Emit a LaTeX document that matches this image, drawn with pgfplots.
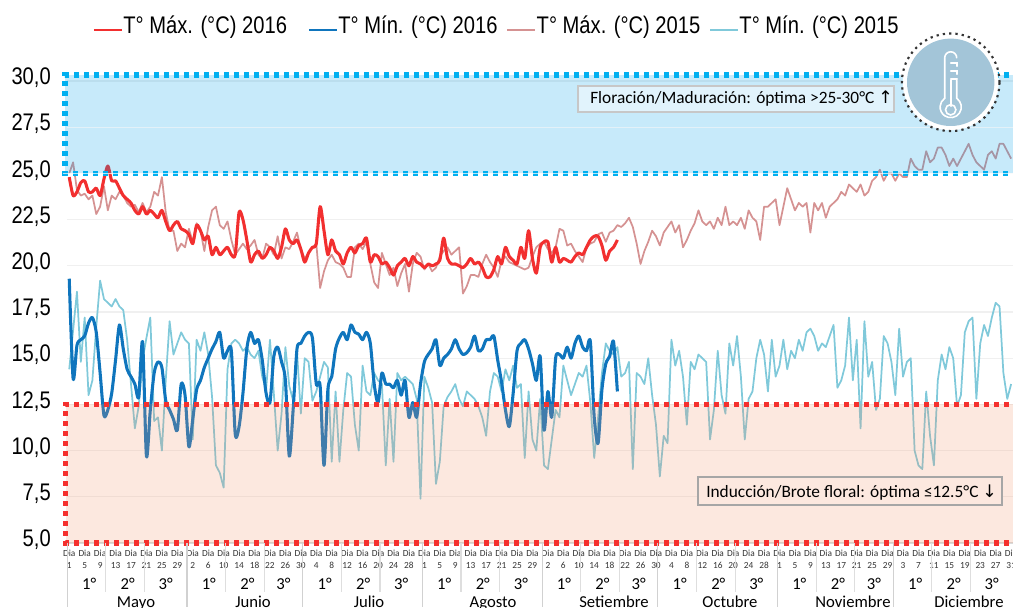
\documentclass[border=0pt]{standalone}
\usepackage{fontspec}
\usepackage{pgfplots}
\pgfplotsset{compat=1.18}
\setmainfont{Carlito}
\newfontfamily\narrowf[FakeStretch=0.84]{Liberation Sans}
\newfontfamily\symf{DejaVu Sans}
\definecolor{cmax16}{HTML}{F22F2F}
\definecolor{cmin16}{HTML}{0F75BD}
\definecolor{cmax15}{HTML}{D59292}
\definecolor{cmin15}{HTML}{80C9DA}
\definecolor{zblue}{HTML}{00A0E8}
\definecolor{zred}{HTML}{F0956B}
\definecolor{dblue}{HTML}{00B0F0}
\definecolor{dred}{HTML}{F5302E}
\definecolor{boxblue}{HTML}{E1F3FC}
\definecolor{boxred}{HTML}{FCE8DF}
\definecolor{badge}{HTML}{A3C5D8}
\pgfplotsset{legsample/.style={legend image code/.code={\draw[#1] (0pt,-3pt) -- (21pt,-3pt);\path (21.75pt,0pt);}}}
\begin{document}
\begin{tikzpicture}
\path[use as bounding box] (0,0) rectangle (759.75pt,455.25pt);
\clip (0,0) rectangle (759.75pt,455.25pt);
\begin{axis}[
  at={(50.48pt,48pt)}, anchor=south west,
  scale only axis, width=709.3pt, height=346.5pt,
  xmin=0.5, xmax=245.5, ymin=5, ymax=30,
  clip=false,
  axis x line*=bottom, axis y line*=left,
  y axis line style={draw=none},
  x axis line style={draw=black!15,line width=0.8pt},
  tick style={draw=none},
  ymajorgrids, grid style={draw=black!6,line width=0.8pt},
  ytick={5,7.5,...,30},
  yticklabel style={font=\narrowf\fontsize{18}{18}\selectfont,inner sep=0pt,anchor=east,xshift=-12.2pt,yshift=2.4pt,
    /pgf/number format/.cd,use comma,fixed,fixed zerofill,precision=1,assume math mode=true},
  xtick={1,5,9,13,17,21,25,29,33,37,41,45,49,53,57,61,65,69,73,77,81,85,89,93,97,101,105,109,113,117,121,125,129,133,137,141,145,149,153,157,161,165,169,173,177,181,185,189,193,197,201,205,209,213,217,221,225,229,233,237,241,245},
  xticklabels={{Dia\\1},{Dia\\5},{Dia\\9},{Dia\\13},{Dia\\17},{Dia\\21},{Dia\\25},{Dia\\29},
    {Dia\\2},{Dia\\6},{Dia\\10},{Dia\\14},{Dia\\18},{Dia\\22},{Dia\\26},{Dia\\30},
    {Dia\\4},{Dia\\8},{Dia\\12},{Dia\\16},{Dia\\20},{Dia\\24},{Dia\\28},
    {Dia\\1},{Dia\\5},{Dia\\9},{Dia\\13},{Dia\\17},{Dia\\21},{Dia\\25},{Dia\\29},
    {Dia\\2},{Dia\\6},{Dia\\10},{Dia\\14},{Dia\\18},{Dia\\22},{Dia\\26},{Dia\\30},
    {Dia\\4},{Dia\\8},{Dia\\12},{Dia\\16},{Dia\\20},{Dia\\24},{Dia\\28},
    {Dia\\1},{Dia\\5},{Dia\\9},{Dia\\13},{Dia\\17},{Dia\\21},{Dia\\25},{Dia\\29},
    {Dia\\3},{Dia\\7},{Dia\\11},{Dia\\15},{Dia\\19},{Dia\\23},{Dia\\27},{Dia\\31}},
  xticklabel style={align=center,font=\fontsize{7}{9}\selectfont,inner sep=0pt,anchor=north,yshift=-5.2pt,text=black!80},
  legend columns=4,
  legend style={at={(0.4528,1.119)},draw=none,fill=none,inner sep=0pt,outer sep=0pt,anchor=center,
    nodes={inner xsep=0pt},
    /tikz/column 2/.style={column sep=15.75pt},
    /tikz/column 4/.style={column sep=6.75pt},
    /tikz/column 6/.style={column sep=6.75pt},
    font=\narrowf\fontsize{18}{18}\selectfont},
]
\addlegendimage{legsample={line width=2.2pt,color=cmax16}}\addlegendentry{T° Máx. (°C) 2016}
\addlegendimage{legsample={line width=1.7pt,color=cmin16}}\addlegendentry{T° Mín. (°C) 2016}
\addlegendimage{legsample={line width=1.3pt,color=cmax15}}\addlegendentry{T° Máx. (°C) 2015}
\addlegendimage{legsample={line width=1.3pt,color=cmin15}}\addlegendentry{T° Mín. (°C) 2015}

% Tmax 2015
\addplot[forget plot,color=cmax15,line width=1.3pt,line join=round] coordinates {
(1,25.0)(2,25.6)(3,24.1)(4,23.8)(5,23.9)(6,23.6)(7,23.8)(8,22.8)(9,23.2)(10,24.3)(11,23.0)(12,23.8)(13,23.6)(14,24.0)(15,23.8)(16,23.4)(17,23.2)(18,23.3)(19,22.9)(20,23.4)(21,22.9)(22,23.2)(23,24.0)(24,23.8)(25,24.8)(26,22.9)(27,21.9)(28,21.9)(29,20.8)(30,21.2)(31,21.0)(32,22.0)(33,21.3)(34,22.3)(35,21.9)(36,20.8)(37,22.1)(38,23.0)(39,23.2)(40,22.2)(41,22.0)(42,22.4)(43,21.4)(44,20.6)(45,20.9)(46,21.2)(47,20.9)(48,21.1)(49,21.4)(50,20.6)(51,20.4)(52,21.2)(53,21.0)(54,20.6)(55,21.6)(56,20.4)(57,21.0)(58,20.9)(59,21.3)(60,21.8)(61,20.9)(62,20.4)(63,20.7)(64,21.0)(65,21.2)(66,18.8)(67,19.7)(68,20.3)(69,20.6)(70,20.2)(71,20.1)
(72,19.9)(73,19.4)(74,19.4)(75,21.0)(76,21.2)(77,20.9)(78,21.3)(79,20.1)(80,19.1)(81,18.8)(82,20.7)(83,20.1)(84,19.5)(85,19.9)(86,18.9)(87,19.6)(88,20.1)(89,18.6)(90,20.1)(91,20.7)(92,20.5)(93,19.8)(94,20.1)(95,19.7)(96,19.9)(97,20.5)(98,20.8)(99,21.0)(100,20.6)(101,20.8)(102,21.0)(103,18.5)(104,18.9)(105,19.5)(106,19.5)(107,19.4)(108,20.1)(109,20.6)(110,20.2)(111,19.9)(112,19.4)(113,20.3)(114,20.5)(115,20.2)(116,20.1)(117,20.0)(118,19.9)(119,19.8)(120,19.9)(121,20.5)(122,21.0)(123,21.2)(124,21.3)(125,20.9)(126,20.7)(127,21.0)(128,22.0)(129,21.9)(130,21.1)(131,21.2)(132,20.8)(133,20.5)(134,20.2)(135,21.0)(136,21.2)(137,21.3)(138,21.7)(139,21.8)(140,21.3)(141,21.8)(142,21.9)(143,22.2)(144,22.1)(145,22.3)(146,22.6)(147,22.1)(148,21.2)(149,20.1)(150,20.8)(151,21.3)(152,21.9)(153,21.6)(154,21.1)(155,21.8)(156,22.1)
(157,22.4)(158,21.8)(159,22.2)(160,21.0)(161,21.4)(162,21.9)(163,22.3)(164,23.0)(165,22.4)(166,22.2)(167,22.4)(168,22.0)(169,22.6)(170,22.2)(171,23.2)(172,22.2)(173,22.4)(174,22.2)(175,22.6)(176,22.0)(177,23.0)(178,22.6)(179,22.4)(180,21.4)(181,23.2)(182,23.2)(183,23.4)(184,23.6)(185,22.2)(186,23.2)(187,24.2)(188,23.6)(189,23.0)(190,23.4)(191,23.2)(192,23.4)(193,21.8)(194,23.4)(195,23.0)(196,23.4)(197,22.6)(198,23.2)(199,23.4)(200,23.6)(201,24.0)(202,23.8)(203,24.4)(204,24.2)(205,24.0)(206,24.4)(207,23.8)(208,24.0)(209,24.6)(210,24.8)(211,25.2)(212,24.6)(213,25.0)(214,25.0)(215,24.6)(216,25.0)(217,24.8)(218,24.8)(219,25.8)(220,25.4)(221,25.2)(222,25.2)(223,26.2)(224,25.6)(225,25.8)(226,26.4)(227,26.4)(228,26.0)(229,25.4)(230,25.8)(231,25.4)(232,25.8)(233,26.2)(234,26.6)(235,26.0)(236,25.6)(237,25.4)(238,25.2)(239,26.0)(240,26.2)(241,25.8)(242,26.6)(243,26.6)(244,26.2)(245,25.8)
};
% Tmin 2015
\addplot[forget plot,color=cmin15,line width=1.3pt,line join=round] coordinates {
(1,14.4)(2,16.5)(3,18.6)(4,14.8)(5,17.2)(6,13.0)(7,13.8)(8,16.7)(9,19.2)(10,18.2)(11,18.0)(12,17.8)(13,18.2)(14,17.8)(15,17.6)(16,16.0)(17,13.6)(18,11.2)(19,12.4)(20,14.9)(21,16.1)(22,17.2)(23,11.6)(24,11.8)(25,10.0)(26,13.8)(27,17.0)(28,15.2)(29,15.8)(30,16.4)(31,16.0)(32,15.8)(33,10.6)(34,16.0)(35,15.4)(36,16.4)(37,15.2)(38,12.9)(39,9.2)(40,8.8)(41,8.0)(42,14.4)(43,15.8)(44,16.0)(45,15.8)(46,15.4)(47,15.6)(48,15.2)(49,15.0)(50,15.4)(51,14.0)(52,13.3)(53,16.0)(54,13.1)(55,10.0)(56,12.0)(57,15.6)(58,13.5)(59,12.7)(60,15.4)(61,12.0)(62,15.0)(63,14.8)(64,12.7)(65,13.2)(66,14.0)(67,14.8)(68,14.5)(69,9.4)(70,13.2)(71,9.4)
(72,12.2)(73,14.2)(74,14.0)(75,11.4)(76,10.0)(77,14.6)(78,13.2)(79,13.0)(80,14.2)(81,13.8)(82,13.6)(83,9.2)(84,12.8)(85,9.4)(86,14.2)(87,13.8)(88,14.0)(89,13.8)(90,13.6)(91,12.8)(92,7.4)(93,14.0)(94,13.4)(95,12.6)(96,8.2)(97,9.4)(98,12.4)(99,12.9)(100,13.2)(101,13.6)(102,12.8)(103,12.4)(104,13.2)(105,13.0)(106,12.8)(107,12.4)(108,11.8)(109,10.8)(110,13.2)(111,14.2)(112,14.0)(113,13.2)(114,14.4)(115,13.8)(116,14.6)(117,13.4)(118,13.6)(119,9.6)(120,13.2)(121,10.6)(122,10.0)(123,12.8)(124,9.2)(125,9.0)(126,10.6)(127,12.2)(128,11.8)(129,14.6)(130,13.8)(131,13.0)(132,13.6)(133,14.2)(134,14.0)(135,14.6)(136,12.6)(137,9.6)(138,11.8)(139,14.2)(140,15.8)(141,15.4)(142,15.2)(143,15.6)(144,14.0)(145,14.2)(146,14.8)(147,9.0)(148,14.2)(149,14.0)(150,13.6)(151,15.0)(152,13.0)(153,11.4)(154,8.6)(155,10.8)(156,10.4)
(157,16.0)(158,14.6)(159,15.4)(160,14.0)(161,11.4)(162,14.8)(163,14.4)(164,15.2)(165,15.0)(166,14.8)(167,10.6)(168,12.2)(169,15.4)(170,13.0)(171,12.0)(172,15.8)(173,14.6)(174,16.2)(175,14.0)(176,10.6)(177,12.8)(178,13.2)(179,15.0)(180,16.0)(181,15.2)(182,13.2)(183,16.0)(184,14.0)(185,14.6)(186,16.0)(187,14.4)(188,15.4)(189,15.0)(190,16.0)(191,15.4)(192,16.4)(193,16.6)(194,16.2)(195,15.4)(196,15.8)(197,15.6)(198,16.2)(199,16.8)(200,13.4)(201,13.8)(202,14.6)(203,17.2)(204,13.8)(205,16.0)(206,11.2)(207,17.0)(208,14.0)(209,14.8)(210,12.2)(211,12.8)(212,16.2)(213,15.8)(214,14.8)(215,13.0)(216,16.6)(217,14.0)(218,14.8)(219,15.0)(220,10.0)(221,9.2)(222,9.0)(223,13.2)(224,10.8)(225,9.2)(226,13.8)(227,15.2)(228,14.4)(229,15.6)(230,15.0)(231,12.4)(232,13.0)(233,16.4)(234,17.0)(235,17.2)(236,12.8)(237,15.8)(238,16.8)(239,16.2)(240,17.2)(241,18.0)(242,17.8)(243,14.2)(244,12.8)(245,13.6)
};
% Tmax 2016
\addplot[forget plot,color=cmax16,line width=2.3pt,smooth,tension=0.45,line join=round] coordinates {
(1,24.8)(2,23.8)(3,24.0)(4,24.5)(5,24.6)(6,24.0)(7,24.0)(8,24.2)(9,23.8)(10,24.7)(11,25.4)(12,24.6)(13,24.6)(14,24.2)(15,23.8)(16,23.6)(17,23.4)(18,23.0)(19,22.8)(20,23.2)(21,22.8)(22,23.0)(23,22.8)(24,22.6)(25,23.0)(26,22.4)(27,21.9)(28,22.2)(29,22.4)(30,22.0)(31,21.9)(32,21.7)(33,21.2)(34,22.2)(35,21.9)(36,21.4)(37,21.6)(38,20.6)(39,21.0)(40,20.6)(41,20.8)(42,21.0)(43,20.6)(44,20.6)(45,22.9)(46,22.5)(47,21.4)(48,20.2)(49,20.6)(50,20.8)(51,20.4)(52,20.6)(53,21.0)(54,20.8)(55,20.4)(56,21.0)(57,22.0)(58,21.4)(59,21.2)(60,21.4)(61,20.9)(62,20.2)(63,20.7)(64,21.0)(65,21.2)(66,23.2)(67,21.9)(68,20.6)(69,21.4)(70,20.8)(71,20.6)
(72,20.1)(73,20.7)(74,21.0)(75,20.7)(76,21.1)(77,21.2)(78,21.5)(79,20.2)(80,20.6)(81,20.5)(82,20.1)(83,20.2)(84,19.9)(85,19.5)(86,20.0)(87,20.2)(88,20.4)(89,20.0)(90,20.5)(91,20.2)(92,20.1)(93,19.9)(94,20.1)(95,20.0)(96,20.1)(97,20.3)(98,21.5)(99,20.4)(100,20.1)(101,20.1)(102,20.0)(103,19.9)(104,20.1)(105,20.4)(106,20.1)(107,20.2)(108,19.9)(109,19.4)(110,19.4)(111,19.8)(112,20.5)(113,20.1)(114,21.0)(115,20.5)(116,20.3)(117,20.1)(118,21.0)(119,20.4)(120,21.9)(121,20.4)(122,19.6)(123,21.0)(124,21.3)(125,21.3)(126,20.2)(127,21.0)(128,20.2)(129,20.4)(130,20.3)(131,20.2)(132,20.5)(133,20.7)(134,20.6)(135,21.0)(136,21.4)(137,21.6)(138,21.6)(139,21.1)(140,20.3)(141,20.8)(142,21.0)(143,21.4)
};
% Tmin 2016
\addplot[forget plot,color=cmin16,line width=2.3pt,smooth,tension=0.45,line join=round] coordinates {
(1,19.3)(2,13.9)(3,15.7)(4,16.0)(5,16.2)(6,16.9)(7,17.2)(8,16.4)(9,14.2)(10,11.9)(11,12.2)(12,13.1)(13,14.9)(14,16.8)(15,15.5)(16,14.4)(17,14.0)(18,13.6)(19,12.9)(20,15.9)(21,9.7)(22,12.2)(23,14.2)(24,14.8)(25,14.5)(26,12.7)(27,12.2)(28,11.7)(29,11.1)(30,13.6)(31,13.0)(32,10.2)(33,11.7)(34,13.3)(35,13.8)(36,14.5)(37,15.0)(38,15.5)(39,15.9)(40,16.4)(41,15.0)(42,15.4)(43,15.4)(44,10.9)(45,11.3)(46,13.1)(47,15.5)(48,16.4)(49,15.8)(50,16.0)(51,14.9)(52,13.1)(53,12.6)(54,15.1)(55,15.6)(56,14.8)(57,13.8)(58,9.7)(59,12.2)(60,15.5)(61,15.8)(62,16.2)(63,16.4)(64,16.1)(65,13.6)(66,13.5)(67,9.2)(68,13.3)(69,14.0)(70,15.5)(71,16.1)
(72,16.4)(73,16.0)(74,16.8)(75,16.4)(76,16.3)(77,16.0)(78,16.4)(79,15.8)(80,13.6)(81,12.6)(82,14.2)(83,13.6)(84,13.6)(85,13.4)(86,13.8)(87,13.0)(88,13.8)(89,11.8)(90,12.6)(91,11.8)(92,13.6)(93,14.8)(94,15.2)(95,15.5)(96,16.0)(97,14.6)(98,15.0)(99,15.2)(100,15.5)(101,16.0)(102,15.5)(103,15.2)(104,15.3)(105,15.6)(106,16.2)(107,15.4)(108,15.5)(109,16.0)(110,16.0)(111,16.2)(112,14.9)(113,13.7)(114,12.2)(115,11.3)(116,13.1)(117,15.4)(118,15.8)(119,16.0)(120,15.5)(121,14.7)(122,13.8)(123,15.1)(124,11.1)(125,13.2)(126,11.8)(127,15.0)(128,15.2)(129,15.0)(130,15.6)(131,15.0)(132,15.8)(133,16.2)(134,15.6)(135,15.4)(136,15.9)(137,11.8)(138,10.4)(139,13.3)(140,14.7)(141,15.1)(142,15.9)(143,13.2)
};
% zones (translucent, above the series)
\addplot[forget plot,draw=none,fill=zblue,fill opacity=0.22] coordinates {(-0.1,25)(-0.1,30.32)(247,30.32)(247,25)} --cycle;
\addplot[forget plot,draw=none,fill=zred,fill opacity=0.217] coordinates {(0.1,5)(0.1,12.5)(247,12.5)(247,5)} --cycle;
% lighter grid line across the blue zone
\addplot[forget plot,color=white,opacity=0.6,line width=0.8pt] coordinates {(0.5,27.5)(245.5,27.5)};
% dotted limits
\addplot[forget plot,color=dblue,line width=3.9pt,dash pattern=on 3.75pt off 3.75pt] coordinates {(247,30.32)(-0.1,30.32)(-0.1,25)(247,25)};
\addplot[forget plot,color=dred,line width=3.9pt,dash pattern=on 3.75pt off 3.75pt] coordinates {(247,12.5)(0.1,12.5)(0.1,5)(247,5)};
\addplot[forget plot,color=white,opacity=0.7,line width=1pt] coordinates {(-0.7,25)(247,25)};
\end{axis}
% layout in image pixels (y measured from the bottom of the 607 px image)
\begin{scope}[x=0.75pt,y=0.75pt]
\foreach \m/\e in {67.3/187,187/302.8,302.8/422.4,422.4/542.1,542.1/657.9,657.9/777.5,777.5/893.3,893.3/1013}{
  \draw[black!18,line width=0.8pt] (\m,64) -- (\m,0);
  \draw[black!13,line width=0.8pt] ({\m+38.6},64) -- ({\m+38.6},15);
  \draw[black!13,line width=0.8pt] ({\m+77.2},64) -- ({\m+77.2},15);
  \node[anchor=base,inner sep=0,font=\fontsize{12.5}{14}\selectfont] at ({\m+21.8},18) {1°};
  \node[anchor=base,inner sep=0,font=\fontsize{12.5}{14}\selectfont] at ({\m+60.4},18) {2°};
  \node[anchor=base,inner sep=0,font=\fontsize{12.5}{14}\selectfont] at ({(\m+77.2+\e)/2},18) {3°};
}
\foreach \c/\t in {136/Mayo,253/Junio,369/Julio,493/Agosto,614/Setiembre,730/Octubre,853/Noviembre,969/Diciembre}{
  \node[anchor=base,inner sep=0,font=\fontsize{12.5}{14}\selectfont] at (\c,0) {\t};
}
\draw[draw=black!22,line width=1.5pt,fill=boxblue] (578,521) rectangle (894,495);
\node[anchor=base west,inner sep=0,font=\fontsize{13}{15}\selectfont] at (590,503) {Floración/Maduración: óptima >25-30°C {\symf ↑}};
\draw[draw=black!35,line width=1.1pt,fill=boxred] (698,130) rectangle (1002,102);
\node[anchor=base west,inner sep=0,font=\fontsize{13}{15}\selectfont] at (706,110) {Inducción/Brote floral: óptima ≤12.5°C {\symf ↓}};
\begin{scope}[shift={(950.7,524.7)}]
  \fill[white] (0,0) circle (48);
  \draw[black!80,line width=1.6pt,dash pattern=on 1.7pt off 3.05pt] (0,0) circle (48.8);
  \fill[badge] (0,0) circle (43.7);
  \begin{scope}[white,line width=1.2pt,line cap=round]
    \draw (-6,-16) -- (-6,24.5) arc (180:0:6);
    \draw (6,2) -- (6,-16) arc (55.5:-235.5:10.6);
    \draw (0,2) -- (0,-24);
    \draw (0,-27.5) circle (5.2);
    \draw (0,19) -- (6.5,19) -- (6.5,16);
    \draw (0,11) -- (6.5,11) -- (6.5,8);
    \draw (0,3) -- (6.5,3);
  \end{scope}
\end{scope}
\end{scope}
\end{tikzpicture}
\end{document}
